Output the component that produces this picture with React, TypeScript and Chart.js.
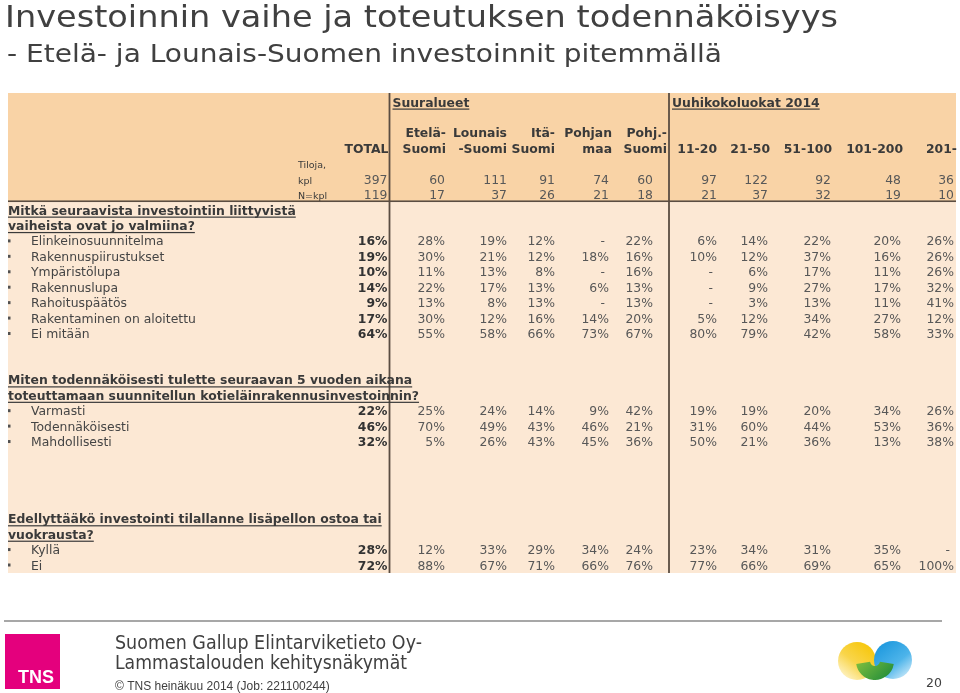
import React, { useEffect, useRef } from 'react';
import { Chart, registerables } from 'chart.js';

Chart.register(...registerables);

// ---------- Texts ----------
const TITLE = 'Investoinnin vaihe ja toteutuksen todennäköisyys';
const SUBTITLE = '- Etelä- ja Lounais-Suomen investoinnit pitemmällä';
const FOOTER_1 = 'Suomen Gallup Elintarviketieto Oy-';
const FOOTER_2 = 'Lammastalouden kehitysnäkymät';
const COPYRIGHT = '© TNS heinäkuu 2014 (Job: 221100244)';
const PAGE_NO = '20';

// ---------- Columns ----------
const columns = ['TOTAL', 'Etelä-Suomi', 'Lounais-Suomi', 'Itä-Suomi', 'Pohjanmaa', 'Pohj.-Suomi', '11-20', '21-50', '51-100', '101-200', '201-'];
const headerLine1 = ['', 'Etelä-', 'Lounais', 'Itä-', 'Pohjan', 'Pohj.-', '', '', '', '', ''];
const headerLine2 = ['TOTAL', 'Suomi', '-Suomi', 'Suomi', 'maa', 'Suomi', '11-20', '21-50', '51-100', '101-200', '201-'];
const groupLabels = ['Suuralueet', 'Uuhikokoluokat 2014'];
const groupStartColumn = ['Etelä-Suomi', '11-20'];

// ---------- Base counts ----------
const farmCounts = [397, 60, 111, 91, 74, 60, 97, 122, 92, 48, 36];
const respondents = [119, 17, 37, 26, 21, 18, 21, 37, 32, 19, 10];

// ---------- Question 1 ----------
const q1Title = ['Mitkä seuraavista investointiin liittyvistä', 'vaiheista ovat jo valmiina?'];
const q1Items = ['Elinkeinosuunnitelma', 'Rakennuspiirustukset', 'Ympäristölupa', 'Rakennuslupa', 'Rahoituspäätös', 'Rakentaminen on aloitettu', 'Ei mitään'];
const elinkeinosuunnitelma = [16, 28, 19, 12, null, 22, 6, 14, 22, 20, 26];
const rakennuspiirustukset = [19, 30, 21, 12, 18, 16, 10, 12, 37, 16, 26];
const ymparistolupa = [10, 11, 13, 8, null, 16, null, 6, 17, 11, 26];
const rakennuslupa = [14, 22, 17, 13, 6, 13, null, 9, 27, 17, 32];
const rahoituspaatos = [9, 13, 8, 13, null, 13, null, 3, 13, 11, 41];
const rakentaminenAloitettu = [17, 30, 12, 16, 14, 20, 5, 12, 34, 27, 12];
const eiMitaan = [64, 55, 58, 66, 73, 67, 80, 79, 42, 58, 33];
const q1Values = [elinkeinosuunnitelma, rakennuspiirustukset, ymparistolupa, rakennuslupa, rahoituspaatos, rakentaminenAloitettu, eiMitaan];

// ---------- Question 2 ----------
const q2Title = ['Miten todennäköisesti tulette seuraavan 5 vuoden aikana', 'toteuttamaan suunnitellun kotieläinrakennusinvestoinnin?'];
const q2Items = ['Varmasti', 'Todennäköisesti', 'Mahdollisesti'];
const varmasti = [22, 25, 24, 14, 9, 42, 19, 19, 20, 34, 26];
const todennakoisesti = [46, 70, 49, 43, 46, 21, 31, 60, 44, 53, 36];
const mahdollisesti = [32, 5, 26, 43, 45, 36, 50, 21, 36, 13, 38];
const q2Values = [varmasti, todennakoisesti, mahdollisesti];

// ---------- Question 3 ----------
const q3Title = ['Edellyttääkö investointi tilallanne lisäpellon ostoa tai', 'vuokrausta?'];
const q3Items = ['Kyllä', 'Ei'];
const kylla = [28, 12, 33, 29, 34, 24, 23, 34, 31, 35, null];
const ei = [72, 88, 67, 71, 66, 76, 77, 66, 69, 65, 100];
const q3Values = [kylla, ei];

// ---------- Layout (not data): relative column widths, header nudges, row order ----------
const columnWidths = [0, 57.5, 62, 48, 54, 44, 64, 51, 63, 70, 53];
const headerNudge = [1, 1, 0, 0, 3, 14, 0, 2, 1, 2, 3];
const rowKeys: string[] = [
  'group', 'gap0', 'head1', 'head2', 'tiloja', 'kpl', 'n',
  'q1a', 'q1b', ...q1Items.map((s) => 'q1:' + s),
  'gap1', 'gap2',
  'q2a', 'q2b', ...q2Items.map((s) => 'q2:' + s),
  'gap3', 'gap4', 'gap5', 'gap6',
  'q3a', 'q3b', ...q3Items.map((s) => 'q3:' + s),
];

// ---------- Styles ----------
const FONT = '"DejaVu Sans", Verdana, sans-serif';
const ARIAL = '"Liberation Sans", Arial, sans-serif';
const FS = 12.4;
const HEADER_BG = '#F9D3A6';
const BODY_BG = '#FCE8D4';
const RULE = '#5a4d42';
const TXT = '#454545';
const VAL = '#585858';
const BOLD = '#333333';
const HEAD = '#3a3a3a';
const SEP_FRACTION = 0.43;

const columnPos = (i: number) => columnWidths.slice(0, i + 1).reduce((a, b) => a + b, 0);
const totalWidth = columnPos(columns.length - 1);

type Cell = { x: number; y: string; t: string; b: boolean };

function buildDatasets() {
  return columns.map((col, ci) => {
    const data: Cell[] = [];
    const x = columnPos(ci);
    data.push({ x, y: 'kpl', t: String(farmCounts[ci]), b: false });
    data.push({ x, y: 'n', t: String(respondents[ci]), b: false });
    const add = (prefix: string, items: string[], vals: (number | null)[][]) => {
      items.forEach((item, ri) => {
        const v = vals[ri][ci];
        data.push({ x, y: prefix + item, t: v === null ? '-' : v + '%', b: ci === 0 });
      });
    };
    add('q1:', q1Items, q1Values);
    add('q2:', q2Items, q2Values);
    add('q3:', q3Items, q3Values);
    return { label: col, data, pointRadius: 0, pointHoverRadius: 0, showLine: false };
  });
}

type TextOpts = { bold?: boolean; align?: CanvasTextAlign; color?: string; underline?: boolean; family?: string; width?: number };

function drawText(ctx: CanvasRenderingContext2D, s: string, x: number, y: number, size: number, opts: TextOpts = {}) {
  ctx.font = `${opts.bold ? 'bold ' : ''}${size}px ${opts.family || FONT}`;
  ctx.textAlign = opts.align || 'left';
  ctx.textBaseline = 'alphabetic';
  ctx.fillStyle = opts.color || TXT;
  const natural = ctx.measureText(s).width;
  if (opts.width) {
    ctx.save();
    ctx.translate(x, y);
    ctx.scale(opts.width / natural, 1);
    ctx.fillText(s, 0, 0);
    ctx.restore();
    return;
  }
  ctx.fillText(s, x, y);
  if (opts.underline) {
    const sx = opts.align === 'right' ? x - natural : opts.align === 'center' ? x - natural / 2 : x;
    ctx.fillRect(sx, y + 2, natural, 1.2);
  }
}

const tablePlugin = {
  id: 'slideTable',
  beforeDraw(chart: any) {
    const { ctx } = chart;
    const y = chart.scales.y;
    const step = y.getPixelForValue(1) - y.getPixelForValue(0);
    const top = y.getPixelForValue(0) - 9;
    const sep = y.getPixelForValue(rowKeys.indexOf('n')) + step * SEP_FRACTION;
    const bottom = y.getPixelForValue(rowKeys.length - 1) + 8;
    ctx.save();
    ctx.fillStyle = '#ffffff';
    ctx.fillRect(0, 0, chart.width, chart.height);
    ctx.fillStyle = HEADER_BG;
    ctx.fillRect(8, top, 948, sep - top);
    ctx.fillStyle = BODY_BG;
    ctx.fillRect(8, sep, 948, bottom - sep);
    ctx.restore();
  },
  afterDraw(chart: any) {
    const { ctx } = chart;
    const xs = chart.scales.x;
    const ys = chart.scales.y;
    const rowY = (key: string) => ys.getPixelForValue(rowKeys.indexOf(key));
    const base = (key: string) => rowY(key) + 4.5;
    const step = ys.getPixelForValue(1) - ys.getPixelForValue(0);
    const colX = (i: number) => xs.getPixelForValue(columnPos(i));
    ctx.save();

    // Title
    drawText(ctx, TITLE, 5, 27, 29.5, { color: '#404040', width: 833 });
    drawText(ctx, SUBTITLE, 7, 62, 24, { color: '#404040', width: 715 });

    // Rules
    const top = ys.getPixelForValue(0) - 9;
    const sep = rowY('n') + step * SEP_FRACTION;
    const bottom = ys.getPixelForValue(rowKeys.length - 1) + 8;
    ctx.fillStyle = RULE;
    ctx.fillRect(8, sep - 0.8, 948, 1.6);
    const groupLines = groupStartColumn.map((c) => {
      const i = columns.indexOf(c);
      return i === 1 ? colX(0) + 2 : colX(i - 1) + (colX(i) - colX(i - 1)) * 0.25;
    });
    groupLines.forEach((gx) => ctx.fillRect(gx - 0.9, top, 1.8, bottom - top));

    // Group labels
    groupLabels.forEach((g, gi) => {
      drawText(ctx, g, groupLines[gi] + 3, base('group'), FS, { bold: true, underline: true, color: HEAD });
    });

    // Column headers
    columns.forEach((_, i) => {
      const hx = colX(i) + headerNudge[i];
      if (headerLine1[i]) drawText(ctx, headerLine1[i], hx, base('head1'), FS, { bold: true, align: 'right', color: HEAD });
      drawText(ctx, headerLine2[i], hx, base('head2'), FS, { bold: true, align: 'right', color: HEAD });
    });

    // Base labels
    drawText(ctx, 'Tiloja,', 298, base('tiloja'), 9.5, { color: HEAD });
    drawText(ctx, 'kpl', 298, base('kpl'), 9.5, { color: HEAD });
    drawText(ctx, 'N=kpl', 298, base('n'), 9.5, { color: HEAD });

    // Question titles and item labels
    const section = (titleLines: string[], keys: string[], items: string[], prefix: string) => {
      titleLines.forEach((line, li) => {
        drawText(ctx, line, 8, base(keys[li]), FS, { bold: true, underline: true, color: HEAD });
      });
      items.forEach((item) => {
        const yy = rowY(prefix + item);
        ctx.fillStyle = '#505050';
        ctx.fillRect(8, yy - 1.5, 2.5, 3);
        drawText(ctx, item, 31, base(prefix + item), FS, { color: TXT });
      });
    };
    section(q1Title, ['q1a', 'q1b'], q1Items, 'q1:');
    section(q2Title, ['q2a', 'q2b'], q2Items, 'q2:');
    section(q3Title, ['q3a', 'q3b'], q3Items, 'q3:');

    // Cell values from dataset elements
    chart.data.datasets.forEach((ds: any, di: number) => {
      const meta = chart.getDatasetMeta(di);
      meta.data.forEach((el: any, i: number) => {
        const c = ds.data[i] as Cell;
        const isDash = c.t === '-';
        drawText(ctx, c.t, el.x - (isDash ? 4 : 0), el.y + 4.5, FS, {
          bold: c.b,
          align: 'right',
          color: c.b ? BOLD : VAL,
        });
      });
    });

    // Footer
    ctx.strokeStyle = '#8a8a8a';
    ctx.lineWidth = 1.5;
    ctx.beginPath();
    ctx.moveTo(4, 621);
    ctx.lineTo(942, 621);
    ctx.stroke();

    ctx.fillStyle = '#E4007D';
    ctx.fillRect(5, 634, 55, 55);
    drawText(ctx, 'TNS', 18, 683, 18, { bold: true, color: '#ffffff', family: ARIAL });

    drawText(ctx, FOOTER_1, 115, 649, 19, { color: '#404040', width: 307 });
    drawText(ctx, FOOTER_2, 115, 669, 19, { color: '#404040', width: 292 });
    drawText(ctx, COPYRIGHT, 115, 690, 12, { color: '#404040', family: ARIAL });
    drawText(ctx, PAGE_NO, 942, 687, 12.5, { color: '#404040', align: 'right' });

    // Decorative logo
    const gy = ctx.createLinearGradient(872, 642, 842, 680);
    gy.addColorStop(0, '#F6C400');
    gy.addColorStop(0.55, '#F9D54A');
    gy.addColorStop(1, '#FFF8DC');
    ctx.fillStyle = gy;
    ctx.beginPath();
    ctx.arc(857, 661, 19, 0, Math.PI * 2);
    ctx.fill();
    const gb = ctx.createLinearGradient(880, 642, 910, 680);
    gb.addColorStop(0, '#1B97DD');
    gb.addColorStop(0.55, '#4DB4EA');
    gb.addColorStop(1, '#E6F5FD');
    ctx.fillStyle = gb;
    ctx.beginPath();
    ctx.arc(893, 660, 19, 0, Math.PI * 2);
    ctx.fill();
    const gg = ctx.createLinearGradient(862, 650, 890, 680);
    gg.addColorStop(0, '#8DC63F');
    gg.addColorStop(1, '#1E8B3A');
    ctx.strokeStyle = gg;
    ctx.lineWidth = 14;
    ctx.beginPath();
    ctx.arc(875, 661, 12, Math.PI * 0.05, Math.PI * 0.95);
    ctx.stroke();

    ctx.restore();
  },
};

export default function App() {
  const ref = useRef<HTMLCanvasElement>(null);
  useEffect(() => {
    if (!ref.current) return;
    const chart = new Chart(ref.current, {
      type: 'scatter',
      data: { datasets: buildDatasets() as any },
      options: {
        responsive: false,
        animation: false,
        devicePixelRatio: 1,
        events: [],
        layout: { padding: { left: 387.5, right: 6, top: 102, bottom: 128 } },
        scales: {
          x: { type: 'linear', min: 0, max: totalWidth, display: false },
          y: { type: 'category', labels: rowKeys, offset: false, display: false },
        },
        plugins: { legend: { display: false }, tooltip: { enabled: false } },
      } as any,
      plugins: [tablePlugin],
    });
    return () => chart.destroy();
  }, []);
  return (
    <div style={{ position: 'absolute', left: 0, top: 0, width: 960, height: 693, background: '#ffffff' }}>
      <canvas ref={ref} width={960} height={693} style={{ display: 'block' }} />
    </div>
  );
}
